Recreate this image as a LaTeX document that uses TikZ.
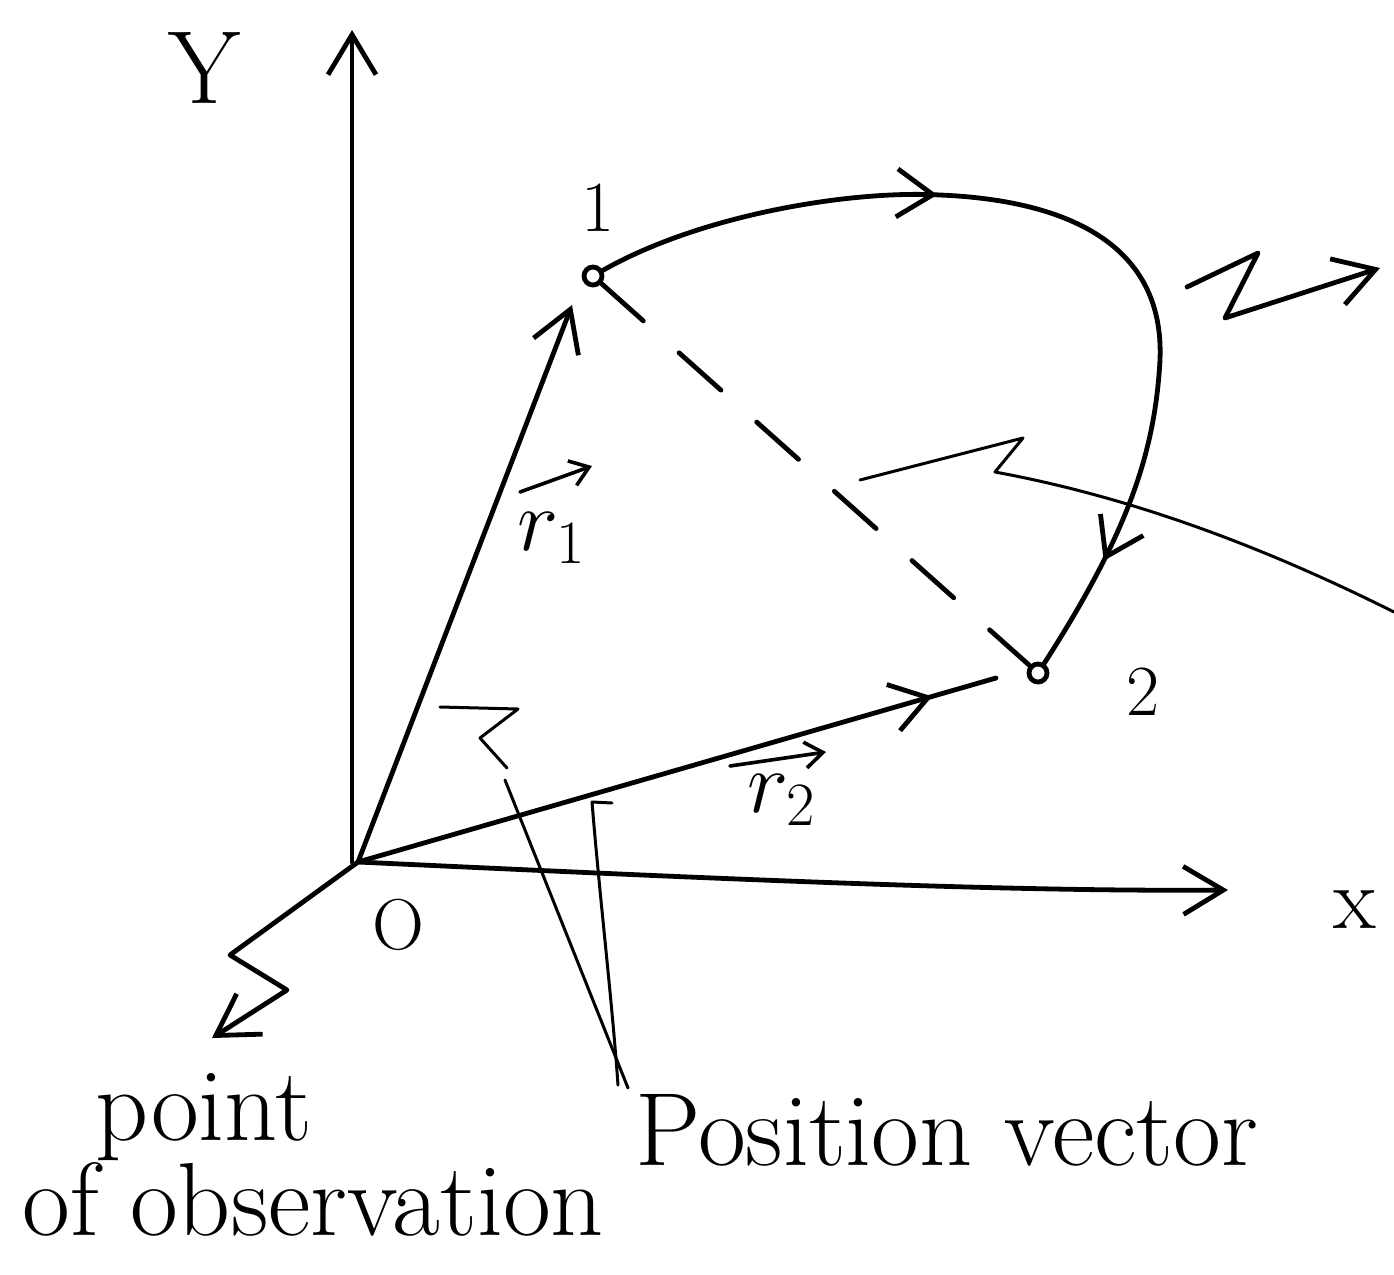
\RequirePackage{fix-cm}
\documentclass[tikz,border=0pt]{standalone}
\usetikzlibrary{arrows.meta,decorations.markings}
\begin{document}
\begin{tikzpicture}[x=0.5pt,y=-0.5pt,
  ink/.style={line width=2.4pt, line cap=round, line join=round},
  thinink/.style={line width=1.5pt, line cap=round, line join=round},
  barb/.style={-{Straight Barb[length=20pt,width=24pt]}},
  smallbarb/.style={line width=1.8pt, line cap=round, -{Straight Barb[length=9pt,width=13pt]}},
  dot/.style={circle, draw, fill=white, line width=2.4pt, minimum size=9pt, inner sep=0pt},
  lbl/.style={font=\fontsize{52}{56}\selectfont, inner sep=0pt},
  smalllbl/.style={font=\fontsize{36}{40}\selectfont, inner sep=0pt},
  vlbl/.style={font=\fontsize{44}{48}\selectfont, inner sep=0pt},
  curvearrows/.style={postaction={decorate}, decoration={markings,
      mark=at position 0.35 with {\arrow{Straight Barb[length=18pt,width=24pt]}},
      mark=at position 0.88 with {\arrow{Straight Barb[length=18pt,width=24pt]}}}},
  linearrow/.style={postaction={decorate}, decoration={markings,
      mark=at position #1 with {\arrow{Straight Barb[length=18pt,width=24pt]}}}},
  ]
\useasboundingbox (0,0) rectangle (1394,1275);

% named points
\coordinate (O) at (358,862);
\coordinate (Ybase) at (352,862);
\coordinate (Ytip) at (352,30);
\coordinate (Xtip) at (1228,890);
\coordinate (r1tip) at (572,305);
\coordinate (r2end) at (996,678);
\node[dot] (P1) at (593,276) {};
\node[dot] (P2) at (1038,673) {};

% axes
\draw[ink, barb] (Ybase) -- (Ytip);
\draw[ink, barb] (O) .. controls (700,878) and (1000,892) .. (Xtip);

% position vectors
\draw[ink, barb] (O) -- (r1tip);
\draw[ink, linearrow=0.9] (O) -- (r2end);

% displacement (dashed) and path
\draw[ink, dash pattern=on 28pt off 24pt] (P1) -- (P2);
\draw[ink, curvearrows] (P1) .. controls (700,215) and (850,190) .. (940,195)
   .. controls (1060,200) and (1165,240) .. (1160,360)
   .. controls (1155,450) and (1130,530) .. (P2);

% right zigzag arrow
\coordinate (za) at (1187,287);
\coordinate (zb) at (1258,253);
\coordinate (zc) at (1225,318);
\coordinate (zd) at (1380,268);
\draw[ink, barb] (za) -- (zb) -- (zc) -- (zd);

% leader to the right edge
\coordinate (la) at (860,480);
\coordinate (lb) at (1023,438);
\coordinate (lc) at (995,472);
\coordinate (ld) at (1394,612);
\draw[thinink] (la) -- (lb) -- (lc) .. controls (1120,495) and (1250,540) .. (ld);

% leaders to "Position vector"
\coordinate (pa) at (440,707);
\coordinate (pb) at (518,709);
\coordinate (pc) at (480,738);
\coordinate (pd) at (507,768);
\coordinate (pe) at (505,780);
\coordinate (pf) at (628,1088);
\draw[thinink] (pa) -- (pb) -- (pc) -- (pd);
\draw[thinink] (pe) -- (pf);
\coordinate (qa) at (612,803);
\coordinate (qb) at (592,802);
\coordinate (qc) at (618,1085);
\draw[thinink] (qa) -- (qb) .. controls (600,900) and (612,1000) .. (qc);

% leader to "point of observation"
\coordinate (oa) at (230,955);
\coordinate (ob) at (287,990);
\coordinate (oc) at (212,1038);
\draw[ink, barb] (O) -- (oa) -- (ob) -- (oc);

% vector labels with their small arrows
\node[vlbl] (r1lab) at (552,538) {$r_1$};
\coordinate (r1a) at (520,492);
\coordinate (r1b) at (592,466);
\draw[smallbarb] (r1a) -- (r1b);
\node[vlbl] (r2lab) at (782,800) {$r_2$};
\coordinate (r2a) at (730,766);
\coordinate (r2b) at (826,752);
\draw[smallbarb] (r2a) -- (r2b);

% labels
\node[lbl] (ylab) at (205,68) {Y};
\node[smalllbl] (one) at (598,208) {1};
\node[smalllbl] (two) at (1143,692) {2};
\node[smalllbl] (olab) at (398,925) {O};
\node[font=\fontsize{44}{48}\selectfont, inner sep=0pt] (xlab) at (1355,910) {x};
\node[lbl, anchor=base west] (pt) at (95,1140) {point};
\node[lbl, anchor=base west] (obs) at (22,1235) {of observation};
\node[lbl, anchor=base west] (pv) at (635,1165) {Position vector};
\end{tikzpicture}
\end{document}
